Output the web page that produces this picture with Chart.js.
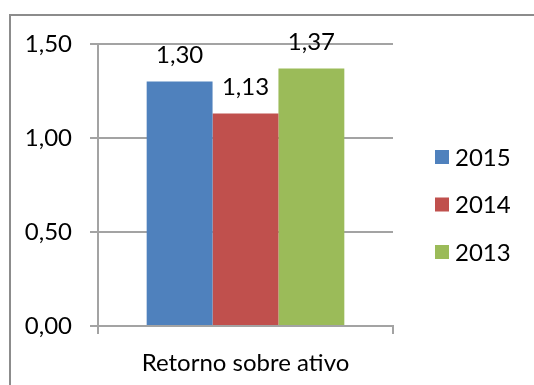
<!DOCTYPE html>
<html>
<head>
<meta charset="utf-8">
<script src="https://cdn.jsdelivr.net/npm/chart.js@4/dist/chart.umd.min.js"></script>
<style>
  html, body { margin: 0; padding: 0; background: #ffffff; }
  #wrap { width: 534px; height: 385px; }
</style>
</head>
<body>
<div id="wrap"><canvas id="c" width="534" height="385"></canvas></div>
<script>
// Categories, series and axis ticks
const categories = ['Retorno sobre ativo'];
const seriesNames = ['2015', '2014', '2013'];
const values2015 = [1.30];
const values2014 = [1.13];
const values2013 = [1.37];
const yTickValues = [0, 0.5, 1.0, 1.5];

const seriesColors = ['#4F81BD', '#C0504D', '#9BBB59'];
const FONT = 'Lato, "Liberation Sans", sans-serif';
const FONT_SIZE = 24;
const GRID = '#A3A3A3';

const fmt = v => v.toFixed(2).replace('.', ',');

// Outer frame of the chart object
const framePlugin = {
  id: 'frame',
  beforeDraw(chart) {
    const ctx = chart.ctx;
    ctx.save();
    ctx.fillStyle = '#ffffff';
    ctx.fillRect(0, 0, chart.width, chart.height);
    ctx.strokeStyle = '#8C8C8C';
    ctx.lineWidth = 2;
    ctx.strokeRect(10, 15, chart.width + 20, chart.height + 20);
    ctx.restore();
  }
};

// Value labels above each bar
const valueLabels = {
  id: 'valueLabels',
  afterDatasetsDraw(chart) {
    const ctx = chart.ctx;
    ctx.save();
    ctx.font = FONT_SIZE + 'px ' + FONT;
    ctx.fillStyle = '#000000';
    ctx.textAlign = 'center';
    ctx.textBaseline = 'middle';
    chart.data.datasets.forEach((ds, i) => {
      chart.getDatasetMeta(i).data.forEach((bar, j) => {
        ctx.fillText(fmt(ds.data[j]), bar.x, bar.y - 26);
      });
    });
    ctx.restore();
  }
};

// Legend on the right: square swatch + series name
const sideLegend = {
  id: 'sideLegend',
  afterDraw(chart) {
    const ctx = chart.ctx;
    const x0 = 435, y0 = 157, step = 47.5, box = 14;
    ctx.save();
    ctx.font = FONT_SIZE + 'px ' + FONT;
    ctx.textAlign = 'left';
    ctx.textBaseline = 'middle';
    chart.data.datasets.forEach((ds, i) => {
      const cy = y0 + i * step;
      ctx.fillStyle = ds.backgroundColor;
      ctx.fillRect(x0, cy - box / 2, box, box);
      ctx.fillStyle = '#000000';
      ctx.fillText(ds.label, x0 + 20, cy + 1);
    });
    ctx.restore();
  }
};

const seriesValues = [values2015, values2014, values2013];

new Chart(document.getElementById('c'), {
  type: 'bar',
  data: {
    labels: categories,
    datasets: seriesNames.map((name, i) => ({
      label: name,
      data: seriesValues[i],
      backgroundColor: seriesColors[i],
      borderWidth: 0,
      barPercentage: 1.0,
      categoryPercentage: 0.67
    }))
  },
  options: {
    responsive: false,
    animation: false,
    devicePixelRatio: 1,
    layout: { padding: { left: 0, right: 141, top: 44, bottom: 0 } },
    plugins: {
      legend: { display: false },
      tooltip: { enabled: false }
    },
    scales: {
      x: {
        afterFit(scale) { scale.height = 59; },
        grid: {
          display: true,
          offset: true,
          drawOnChartArea: false,
          drawTicks: true,
          tickLength: 8,
          color: GRID,
          lineWidth: 2
        },
        border: { display: true, color: GRID, width: 2 },
        ticks: {
          color: '#000000',
          font: { family: FONT, size: FONT_SIZE },
          padding: 15,
          maxRotation: 0
        }
      },
      y: {
        min: 0,
        max: 1.5,
        afterFit(scale) { scale.width = 98; },
        afterBuildTicks(scale) { scale.ticks = yTickValues.map(v => ({ value: v })); },
        grid: {
          color: GRID,
          lineWidth: 2,
          drawTicks: true,
          tickLength: 8
        },
        border: { display: true, color: GRID, width: 2 },
        ticks: {
          color: '#000000',
          font: { family: FONT, size: FONT_SIZE },
          padding: 18,
          callback: v => fmt(v)
        }
      }
    }
  },
  plugins: [framePlugin, valueLabels, sideLegend]
});
</script>
</body>
</html>
